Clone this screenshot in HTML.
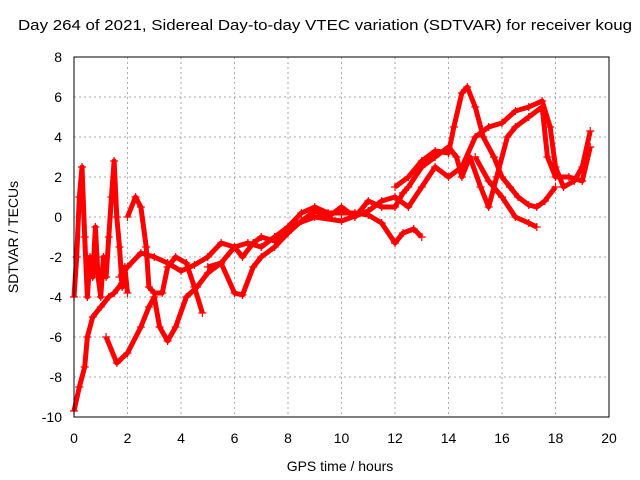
<!DOCTYPE html>
<html><head><meta charset="utf-8"><style>
body{margin:0;background:#fff;}
svg{display:block;font-family:"Liberation Sans",sans-serif;}
</style></head><body>
<svg id="chart" width="640" height="480">
<text x="18" y="30" textLength="614" lengthAdjust="spacingAndGlyphs" font-size="15">Day 264 of 2021, Sidereal Day-to-day VTEC variation (SDTVAR) for receiver koug</text>
<text x="340" y="471" text-anchor="middle" font-size="14">GPS time / hours</text>
<text transform="translate(18,237) rotate(-90)" text-anchor="middle" font-size="14">SDTVAR / TECUs</text>
<g id="grid"></g><g id="series"></g>
<rect x="74" y="57" width="535" height="360" fill="none" stroke="#000"/>
</svg>
<script>
const xTicks=[0,2,4,6,8,10,12,14,16,18,20];
const yTicks=[-10,-8,-6,-4,-2,0,2,4,6,8];
const trackA=[[0,-9.7],[0.2,-8.5],[0.4,-7.5],[0.5,-6],[0.7,-5],[1,-4.5],[1.3,-4],[1.5,-3.8],[1.8,-3.3]];
const trackB=[[1.2,-6],[1.6,-7.3],[2,-6.8],[2.5,-5.5],[2.8,-4.5],[3,-4],[3.2,-5.5],[3.5,-6.2],[3.8,-5.5],[4.2,-4],[4.6,-3.5],[5,-2.8],[5.5,-2.3],[6,-1.5],[6.5,-1.3],[7,-1.5],[7.5,-1],[8,-0.5],[8.5,0.2],[9,0.5],[9.5,0.2],[10,0.2],[10.5,0.2],[11,0.1],[11.5,-0.3],[12,-1.3],[12.3,-0.8],[12.7,-0.6],[13,-1]];
const trackC=[[1.7,-3],[2,-2.5],[2.5,-1.8],[3,-2],[3.5,-2.3],[4,-2.7],[4.5,-2.4],[5,-2],[5.5,-1.3],[6,-1.5],[6.3,-2],[6.7,-1.3],[7,-1],[7.5,-1.2],[8,-0.5],[9,0],[10,-0.2],[11,0.3],[11.5,0.8],[12,1],[12.5,0.5],[13,1.5],[13.5,2.5],[14,2],[14.5,2.5],[15,4],[15.5,4.5],[16,4.7],[16.5,5.3],[17,5.5],[17.5,5.8],[17.8,4.5],[18,2.5],[18.3,1.5],[18.7,1.8],[19,2.5],[19.3,4.3]];
const trackD=[[2,0],[2.3,1],[2.5,0.5],[2.7,-1.5],[2.8,-3.5],[3,-3.8],[3.3,-3.8],[3.5,-2.5],[3.8,-2],[4.2,-2.3],[4.5,-3.5],[4.8,-4.8]];
const trackE=[[5,-2.5],[5.5,-2.3],[6,-3.8],[6.3,-3.9],[6.7,-2.5],[7,-2],[7.5,-1.5],[8,-0.8],[8.5,-0.2],[9,0.3],[9.5,0],[10,0.5],[10.5,0],[11,0.8],[11.5,0.5],[12,0.5],[12.3,1.2],[12.5,1.5],[13,2.5],[13.5,3],[14,3.5],[14.3,3],[14.5,2],[14.8,3],[15.2,1.5],[15.5,0.5],[15.8,2],[16.2,4],[16.5,4.5],[17,5],[17.5,5.5],[17.7,3],[18,2],[18.5,2],[19,1.8],[19.3,3.5]];
const trackF=[[12,1.5],[12.5,2],[13,2.8],[13.5,3.3],[14,3.2],[14.2,4.5],[14.5,6.2],[14.7,6.5],[15,5.5],[15.3,4],[15.7,3],[16,2],[16.3,1.5],[16.6,1],[17,0.6],[17.3,0.5],[17.6,0.8],[18,1.5]];
const trackH=[[15,3],[15.5,1.8],[16,1],[16.5,0],[17,-0.3],[17.3,-0.5]];
const trackG=[[0,-4],[0.1,-2],[0.2,1],[0.3,2.5],[0.4,-1],[0.5,-4],[0.6,-2],[0.7,-3],[0.8,-0.5],[0.9,-3],[1.0,-4],[1.1,-2],[1.2,-3],[1.3,-1],[1.4,1],[1.5,2.8],[1.6,0],[1.7,-1.5],[1.8,-3.5],[1.9,-2.5],[2,-3.8]];
const tracks=[trackA,trackB,trackC,trackD,trackE,trackF,trackH,trackG];
const NS='http://www.w3.org/2000/svg';
const X=v=>74+v*535/20, Y=v=>417-(v+10)*20;
const grid=document.getElementById('grid'), ser=document.getElementById('series');
function mk(tag,at,parent){const e=document.createElementNS(NS,tag);for(const k in at)e.setAttribute(k,at[k]);parent.appendChild(e);return e;}
xTicks.forEach(t=>{
  const l=mk('line',{x1:X(t),x2:X(t),y1:57,y2:417,stroke:'#aaa','stroke-dasharray':'2,3'},grid);
  
  
  const tx=mk('text',{x:X(t),y:443,'text-anchor':'middle','font-size':14},grid);tx.textContent=t;
  
  
});
yTicks.forEach(t=>{
  const l=mk('line',{x1:74,x2:609,y1:Y(t),y2:Y(t),stroke:'#aaa','stroke-dasharray':'2,3'},grid);
  
  
  const tx=mk('text',{x:62,y:Y(t)+5,'text-anchor':'end','font-size':14},grid);tx.textContent=t;
  
  
});
tracks.forEach(tr=>{
  const p=mk('polyline',{points:tr.map(d=>X(d[0])+','+Y(d[1])).join(' '),fill:'none',stroke:'#f00','stroke-width':5,'stroke-linejoin':'round'},ser);
  
  
  tr.forEach(d=>{
    const x=X(d[0]),y=Y(d[1]);
    const m=mk('path',{d:`M${x-4},${y}H${x+4}M${x},${y-4}V${y+4}`,stroke:'#f00','stroke-width':1.2},ser);
    
    
  });
});
</script>
</body></html>
